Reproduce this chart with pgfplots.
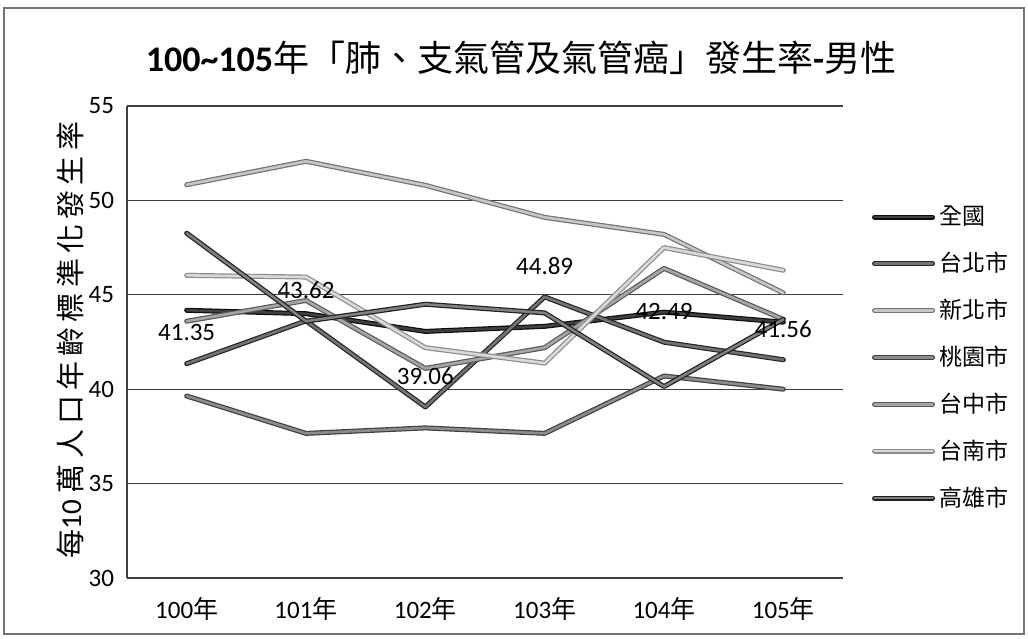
\documentclass[border=0pt]{standalone}
\usepackage{pgfplots}
\pgfplotsset{compat=1.18}
\usepackage{fontspec}
\setmainfont{Carlito}
\newfontfamily\cjk{Noto Sans CJK TC}
\newfontfamily\cjkwide[LetterSpace=18]{Noto Sans CJK TC}

% scanned look: dark rim round a lighter core
\tikzset{
  scan/.style 2 args={line width=0.6pt, draw=black!#1, double=black!#2,
    double distance=1.3pt, line join=round, line cap=round},
}

\begin{document}
\begin{tikzpicture}[x=1pt,y=1pt]
\useasboundingbox (0,0) rectangle (514,319);
\draw[black!55, line width=0.6pt] (2,2) rectangle (512,315);

\node[font=\fontsize{18}{20}\selectfont] at (260.5,290)
  {\textbf{100\textasciitilde105}{\cjk 年「肺、支氣管及氣管癌」發生率}\textbf{-}{\cjk 男性}};

\node[rotate=90, font=\fontsize{14.5}{16}\selectfont] at (35,149)
  {{\cjkwide 每}10 {\cjkwide 萬人口年齡標準化發生率}};

\begin{axis}[
    at={(63.5pt,30pt)}, anchor=south west,
    scale only axis, width=358pt, height=236pt,
    xmin=-0.5, xmax=5.5, ymin=30, ymax=55,
    xtick={0,...,5},
    xticklabels={100{\cjk 年},101{\cjk 年},102{\cjk 年},103{\cjk 年},104{\cjk 年},105{\cjk 年}},
    ytick={30,35,...,55},
    ymajorgrids,
    major grid style={black!75, line width=0.6pt},
    axis x line*=bottom, axis y line*=left,
    axis line style={black!75, line width=0.6pt, -},
    major tick length=0pt,
    tick label style={font=\fontsize{12.5}{14}\selectfont},
    /pgf/number format/assume math mode=true,
    xticklabel style={yshift=-6pt},
    yticklabel style={xshift=-3pt},
    legend style={draw=none, fill=none, at={(axis description cs:1.04,0.797)},
      anchor=north west, inner sep=0pt, row sep=8.2pt,
      font=\cjk\fontsize{11.5}{12}\selectfont},
    legend cell align=left,
    legend image code/.code={\draw[#1] (0pt,0pt) -- (29pt,0pt);},
  ]

\addplot[scan={95}{75}] coordinates {(0,44.18) (1,44.0) (2,43.06) (3,43.33) (4,44.08) (5,43.55)};
\addlegendentry{全國}

\addplot[scan={85}{55},
    nodes near coords,
    every node near coord/.append style={anchor=center, yshift=15.5pt, text=black,
      font=\fontsize{12.5}{14}\selectfont},
    /pgf/number format/.cd, fixed, fixed zerofill, precision=2]
  coordinates {(0,41.35) (1,43.62) (2,39.06) (3,44.89) (4,42.49) (5,41.56)};
\addlegendentry{台北市}

\addplot[scan={55}{22}] coordinates {(0,50.83) (1,52.07) (2,50.8) (3,49.1) (4,48.2) (5,45.1)};
\addlegendentry{新北市}

\addplot[scan={75}{45}] coordinates {(0,39.64) (1,37.66) (2,37.95) (3,37.66) (4,40.7) (5,40.0)};
\addlegendentry{桃園市}

\addplot[scan={65}{35}] coordinates {(0,43.6) (1,44.7) (2,41.1) (3,42.2) (4,46.4) (5,43.7)};
\addlegendentry{台中市}

\addplot[scan={45}{15}] coordinates {(0,46.03) (1,45.94) (2,42.2) (3,41.38) (4,47.5) (5,46.3)};
\addlegendentry{台南市}

\addplot[scan={88}{50}] coordinates {(0,48.26) (1,43.6) (2,44.5) (3,44.04) (4,40.14) (5,43.7)};
\addlegendentry{高雄市}

\end{axis}
\end{tikzpicture}
\end{document}
